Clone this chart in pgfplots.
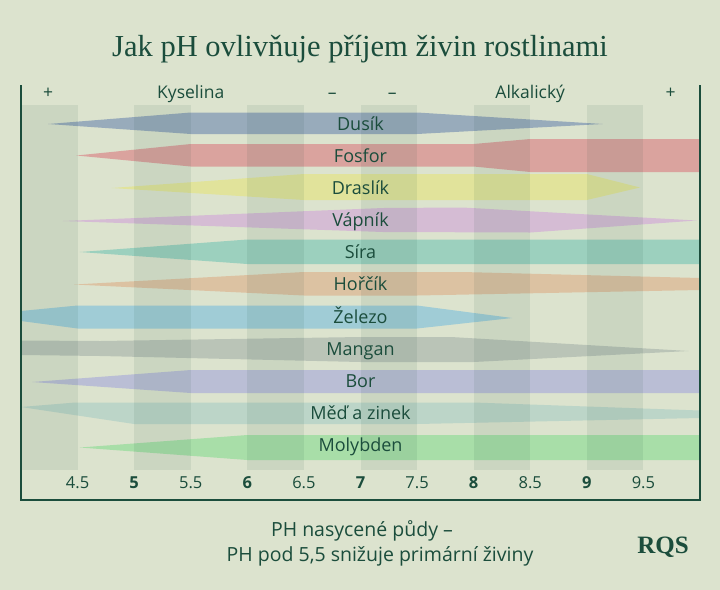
\documentclass[border=0pt]{standalone}
\usepackage{fontspec}
\setmainfont{Open Sans}
\newfontfamily\titlefont{Liberation Serif}
\usepackage{pgfplots}
\pgfplotsset{compat=1.18}
\definecolor{bg}{HTML}{DCE3CE}
\definecolor{dk}{HTML}{1B4D3C}
\definecolor{cDus}{HTML}{98ABBB}
\definecolor{cFos}{HTML}{DAA39E}
\definecolor{cDra}{HTML}{E1E39B}
\definecolor{cVap}{HTML}{D5BCD4}
\definecolor{cSir}{HTML}{9CD0BE}
\definecolor{cHor}{HTML}{DCC2A2}
\definecolor{cZel}{HTML}{A0CCD6}
\definecolor{cMan}{HTML}{BAC4B7}
\definecolor{cBor}{HTML}{BABED5}
\definecolor{cMed}{HTML}{BCD5C8}
\definecolor{cMol}{HTML}{A8DEA8}
\tikzset{lab/.style={font=\fontsize{18bp}{21bp}\selectfont, text=dk, anchor=base},
  top/.style={font=\fontsize{17.5bp}{20bp}\selectfont, text=dk, anchor=base},
  tck/.style={font=\fontsize{16.5bp}{19bp}\selectfont, text=dk, anchor=base},
  strp/.style={fill=dk, opacity=0.085}}
\begin{document}
\begin{tikzpicture}
\fill[bg] (0,0) rectangle (720bp,-590bp);
\node[font=\titlefont\fontsize{30.5bp}{36bp}\selectfont, text=dk, anchor=base] at (360bp,-56bp) {Jak pH ovlivňuje příjem živin rostlinami};
\node[font=\fontsize{19.5bp}{23bp}\selectfont, text=dk, anchor=base] at (362bp,-536bp) {PH nasycené půdy –};
\node[font=\fontsize{19.5bp}{23bp}\selectfont, text=dk, anchor=base] at (380bp,-561bp) {PH pod 5,5 snižuje primární živiny};
\node[font=\titlefont\bfseries\fontsize{25bp}{30bp}\selectfont, text=dk, anchor=base] at (663bp,-553bp) {RQS};
\begin{axis}[at={(21bp,-500bp)}, anchor=south west, scale only axis,
  width=679bp, height=415bp, xmin=4, xmax=10, ymin=85, ymax=500,
  y dir=reverse, hide axis, clip=false]
% Dusik
\addplot[fill=cDus, draw=none] coordinates {(4.24,124) (5.5,112.5) (7.5,112.5) (9.14,124) (7.5,134) (5.5,134)} -- cycle;
% Fosfor
\addplot[fill=cFos, draw=none] coordinates {(4.49,155.5) (5.5,144) (8.0,144) (8.5,139) (10,139) (10,172) (8.5,172) (8.0,166.5) (5.5,166.5)} -- cycle;
% Draslik
\addplot[fill=cDra, draw=none] coordinates {(4.8,188) (6.5,174) (9.0,174) (9.47,187.5) (9.0,200) (6.5,200)} -- cycle;
% Vapnik
\addplot[fill=cVap, draw=none] coordinates {(4.37,221) (7.2,208) (7.9,207.5) (9.97,220.5) (8.5,232.5) (7.2,232)} -- cycle;
% Sira
\addplot[fill=cSir, draw=none] coordinates {(4.52,252) (6.0,239.5) (10,239.5) (10,264) (6.0,264)} -- cycle;
% Horcik
\addplot[fill=cHor, draw=none] coordinates {(4.47,284.5) (6.5,272) (7.9,272) (10,278) (10,290) (7.5,295.5) (6.5,295.5)} -- cycle;
% Zelezo
\addplot[fill=cZel, draw=none] coordinates {(4.0,311) (4.5,305.5) (7.5,305.5) (8.34,318) (7.5,328.5) (4.5,328.5) (4.0,321)} -- cycle;
% Mangan
\addplot[fill=cMan, draw=none] coordinates {(4.0,340.5) (4.7,341) (7.0,337) (7.8,337) (9.9,351) (8.0,362) (7.0,362) (4.7,356) (4.0,355)} -- cycle;
% Bor
\addplot[fill=cBor, draw=none] coordinates {(4.1,382) (5.5,370) (10,370) (10,393) (5.5,393)} -- cycle;
% Med a zinek
\addplot[fill=cMed, draw=none] coordinates {(4.0,407) (4.48,402.5) (8.0,402.5) (10,410.5) (10,418) (7.5,424) (5.0,424)} -- cycle;
% Molybden
\addplot[fill=cMol, draw=none] coordinates {(4.52,447.5) (6.0,435) (10,435) (10,460) (6.0,460)} -- cycle;
% vertical stripes
\fill[strp] (axis cs:4,105) rectangle (axis cs:4.5,470);
\fill[strp] (axis cs:5,105) rectangle (axis cs:5.5,470);
\fill[strp] (axis cs:6,105) rectangle (axis cs:6.5,470);
\fill[strp] (axis cs:7,105) rectangle (axis cs:7.5,470);
\fill[strp] (axis cs:8,105) rectangle (axis cs:8.5,470);
\fill[strp] (axis cs:9,105) rectangle (axis cs:9.5,470);
% frame
\draw[dk, line width=1.3bp] (axis cs:4,85) -- (axis cs:4,500) -- (axis cs:10,500) -- (axis cs:10,85);
% nutrient labels
\node[lab] at (axis cs:7,130) {Dusík};
\node[lab] at (axis cs:7,162.5) {Fosfor};
\node[lab] at (axis cs:7,194.5) {Draslík};
\node[lab] at (axis cs:7,226.5) {Vápník};
\node[lab] at (axis cs:7,258.5) {Síra};
\node[lab] at (axis cs:7,290.5) {Hořčík};
\node[lab] at (axis cs:7,323.5) {Železo};
\node[lab] at (axis cs:7,355.5) {Mangan};
\node[lab] at (axis cs:7,387.5) {Bor};
\node[lab] at (axis cs:7,419.5) {Měď a zinek};
\node[lab] at (axis cs:7,451.5) {Molybden};
% top labels
\node[top] at (axis cs:4.24,98) {+};
\node[top] at (axis cs:5.5,98) {Kyselina};
\node[top] at (axis cs:6.75,98) {–};
\node[top] at (axis cs:7.28,98) {–};
\node[top] at (axis cs:8.5,98) {Alkalický};
\node[top] at (axis cs:9.74,98) {+};
% tick labels
\node[tck] at (axis cs:4.5,488) {4.5};
\node[tck] at (axis cs:5,488) {\textbf{5}};
\node[tck] at (axis cs:5.5,488) {5.5};
\node[tck] at (axis cs:6,488) {\textbf{6}};
\node[tck] at (axis cs:6.5,488) {6.5};
\node[tck] at (axis cs:7,488) {\textbf{7}};
\node[tck] at (axis cs:7.5,488) {7.5};
\node[tck] at (axis cs:8,488) {\textbf{8}};
\node[tck] at (axis cs:8.5,488) {8.5};
\node[tck] at (axis cs:9,488) {\textbf{9}};
\node[tck] at (axis cs:9.5,488) {9.5};
\end{axis}
\end{tikzpicture}
\end{document}
